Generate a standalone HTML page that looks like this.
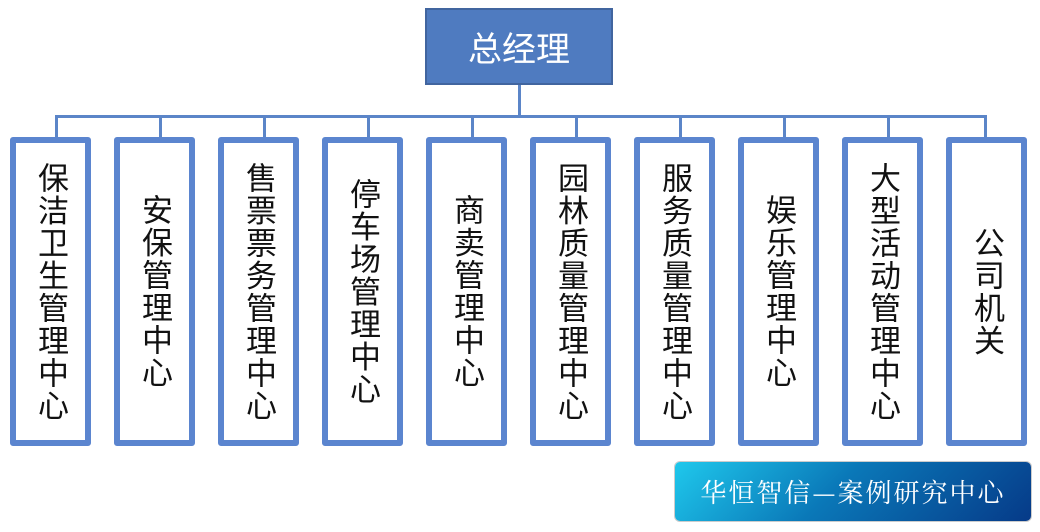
<!DOCTYPE html>
<html><head><meta charset="utf-8"><style>
body{margin:0;width:1040px;height:532px;background:#fff;position:relative;overflow:hidden;font-family:"Liberation Sans","Noto Sans CJK SC",sans-serif}
.top{position:absolute;left:425px;top:8px;width:188px;height:77px;box-sizing:border-box;background:#4f7bc0;border:2px solid #41659f;color:#fff;font-size:34px;display:flex;align-items:center;justify-content:center}
.l{position:absolute;background:#5b85c8}
.b{position:absolute;top:137px;width:81px;height:309px;box-sizing:border-box;border:6px solid #5b85cf;border-radius:3px;background:#fff;display:flex;align-items:center;justify-content:center}
.b span{writing-mode:vertical-rl;font-size:31px;line-height:33px;letter-spacing:1.5px;color:#111}
.wm{position:absolute;left:675px;top:462px;width:356px;height:59px;border-radius:5px;background:linear-gradient(135deg,#1fc8ec 0%,#0a78b8 45%,#063a88 100%);color:#fff;font-family:"Noto Serif CJK SC","Liberation Serif",serif;font-size:26px;display:flex;align-items:center;justify-content:center;letter-spacing:2px;box-shadow:0 0 0 1px #ccc}
</style></head><body>
<div class="top">总经理</div>
<div class="l" style="left:518px;top:85px;width:3px;height:32px"></div>
<div class="l" style="left:55px;top:115px;width:932px;height:3px"></div>
<div class="l" style="left:55px;top:115px;width:3px;height:24px"></div>
<div class="l" style="left:159px;top:115px;width:3px;height:24px"></div>
<div class="l" style="left:263px;top:115px;width:3px;height:24px"></div>
<div class="l" style="left:367px;top:115px;width:3px;height:24px"></div>
<div class="l" style="left:471px;top:115px;width:3px;height:24px"></div>
<div class="l" style="left:575px;top:115px;width:3px;height:24px"></div>
<div class="l" style="left:679px;top:115px;width:3px;height:24px"></div>
<div class="l" style="left:783px;top:115px;width:3px;height:24px"></div>
<div class="l" style="left:887px;top:115px;width:3px;height:24px"></div>
<div class="l" style="left:984px;top:115px;width:3px;height:24px"></div>
<div class="b" style="left:10px"><span>保洁卫生管理中心</span></div>
<div class="b" style="left:114px"><span>安保管理中心</span></div>
<div class="b" style="left:218px"><span>售票票务管理中心</span></div>
<div class="b" style="left:322px"><span>停车场管理中心</span></div>
<div class="b" style="left:426px"><span>商卖管理中心</span></div>
<div class="b" style="left:530px"><span>园林质量管理中心</span></div>
<div class="b" style="left:634px"><span>服务质量管理中心</span></div>
<div class="b" style="left:738px"><span>娱乐管理中心</span></div>
<div class="b" style="left:842px"><span>大型活动管理中心</span></div>
<div class="b" style="left:946px"><span>公司机关</span></div>
<div class="wm">华恒智信—案例研究中心</div>
</body></html>
